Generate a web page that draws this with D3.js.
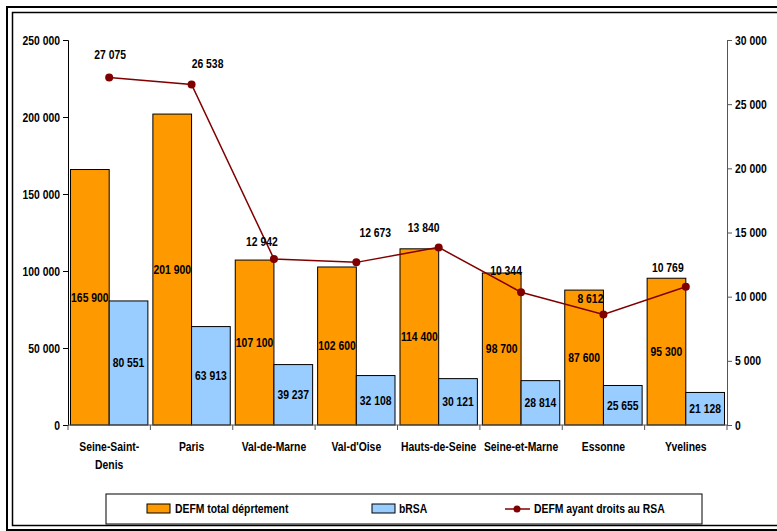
<!DOCTYPE html>
<html><head><meta charset="utf-8">
<script src="https://cdn.jsdelivr.net/npm/d3@7"></script>
<style>
body{margin:0;background:#fff;}
svg text{font-family:"Liberation Sans",Arial,sans-serif;font-weight:bold;font-size:12.5px;fill:#000;}
</style></head>
<body><svg id="c" width="777" height="531"></svg>
<script>
const categories = ["Seine-Saint-Denis","Paris","Val-de-Marne","Val-d'Oise","Hauts-de-Seine","Seine-et-Marne","Essonne","Yvelines"];
const categoryLines = [["Seine-Saint-","Denis"],["Paris"],["Val-de-Marne"],["Val-d'Oise"],["Hauts-de-Seine"],["Seine-et-Marne"],["Essonne"],["Yvelines"]];
const defmTotal = [165900,201900,107100,102600,114400,98700,87600,95300];
const brsa = [80551,63913,39237,32108,30121,28814,25655,21128];
const defmRsa = [27075,26538,12942,12673,13840,10344,8612,10769];
const leftTicks = [0,50000,100000,150000,200000,250000];
const rightTicks = [0,5000,10000,15000,20000,25000,30000];
const seriesNames = ["DEFM total déprtement","bRSA","DEFM ayant droits au RSA"];
// manual label placement offsets (styling, px)
const lineLabelDx = [1,16,-12,19,-15,-15,-13,-18];
const lineLabelDy = [-23,-21,-17,-30,-20,-22,-16,-19];

const fmt = v => d3.format(",")(v).replace(/,/g," ");
const svg = d3.select("#c");

// frame
svg.append("rect").attr("x",7).attr("y",7).attr("width",790).attr("height",523).attr("fill","none").attr("stroke","#000").attr("stroke-width",2);
svg.append("rect").attr("x",12.5).attr("y",12.5).attr("width",780).attr("height",513).attr("fill","none").attr("stroke","#000").attr("stroke-width",1.5);

const L=68, R=727, T=40, B=425;
const x = d3.scaleBand().domain(categories).range([L,R]).paddingInner(0).paddingOuter(0);
const yL = d3.scaleLinear().domain([0,250000]).range([B,T]);
const yR = d3.scaleLinear().domain([0,30000]).range([B,T]);
const pad = 2.5;
const bw = (x.bandwidth()-2*pad)/2;

const g = svg.append("g");
g.selectAll(".o").data(categories).join("rect")
 .attr("x",d=>x(d)+pad).attr("y",(d,i)=>yL(defmTotal[i]))
 .attr("width",bw).attr("height",(d,i)=>B-yL(defmTotal[i]))
 .attr("fill","#FF9900").attr("stroke","#000").attr("stroke-width",1);
g.selectAll(".b").data(categories).join("rect")
 .attr("x",d=>x(d)+pad+bw).attr("y",(d,i)=>yL(brsa[i]))
 .attr("width",bw).attr("height",(d,i)=>B-yL(brsa[i]))
 .attr("fill","#99CCFF").attr("stroke","#000").attr("stroke-width",1);

g.selectAll(".ol").data(categories).join("text")
 .attr("x",d=>x(d)+pad+bw/2).attr("y",(d,i)=>(yL(defmTotal[i])+B)/2)
 .attr("text-anchor","middle").attr("dominant-baseline","central").text((d,i)=>fmt(defmTotal[i]));
g.selectAll(".bl").data(categories).join("text")
 .attr("x",d=>x(d)+pad+bw*1.5).attr("y",(d,i)=>(yL(brsa[i])+B)/2)
 .attr("text-anchor","middle").attr("dominant-baseline","central").text((d,i)=>fmt(brsa[i]));

// axes
const axL = svg.append("g").attr("transform",`translate(${L},0)`)
 .call(d3.axisLeft(yL).tickValues(leftTicks).tickFormat(fmt).tickSize(5).tickPadding(3));
const axR = svg.append("g").attr("transform",`translate(${R},0)`)
 .call(d3.axisRight(yR).tickValues(rightTicks).tickFormat(fmt).tickSize(5).tickPadding(3));
[axL,axR].forEach(a=>{a.select(".domain").attr("stroke","#000");a.selectAll(".tick line").attr("stroke","#000");a.selectAll("text").attr("font-size",null).attr("font-family",null).attr("fill","#000");});
axR.select(".domain").attr("stroke","#555");axR.selectAll(".tick line").attr("stroke","#555");

svg.append("line").attr("x1",L).attr("x2",R).attr("y1",B).attr("y2",B).attr("stroke","#555");
const bounds = categories.map(d=>x(d)).concat([R]);
svg.selectAll(".xt").data(bounds).join("line").attr("x1",d=>d).attr("x2",d=>d).attr("y1",B).attr("y2",B+5).attr("stroke","#555");
const cl = svg.selectAll(".cl").data(categories).join("text")
 .attr("text-anchor","middle").attr("x",d=>x(d)+x.bandwidth()/2).attr("y",451);
cl.each(function(d,i){const t=d3.select(this);categoryLines[i].forEach((s,j)=>t.append("tspan").attr("x",x(d)+x.bandwidth()/2).attr("dy",j?18:0).text(s));});

const cx = d=>x(d)+x.bandwidth()/2;
svg.append("path").datum(categories)
 .attr("d",d3.line().x(d=>cx(d)).y((d,i)=>yR(defmRsa[i])))
 .attr("fill","none").attr("stroke","#800000").attr("stroke-width",1.5);
svg.selectAll(".pt").data(categories).join("circle")
 .attr("cx",cx).attr("cy",(d,i)=>yR(defmRsa[i])).attr("r",4).attr("fill","#800000");
svg.selectAll(".pl").data(categories).join("text")
 .attr("text-anchor","middle").attr("dominant-baseline","central")
 .attr("x",(d,i)=>cx(d)+lineLabelDx[i]).attr("y",(d,i)=>yR(defmRsa[i])+lineLabelDy[i])
 .text((d,i)=>fmt(defmRsa[i]));

// legend
const lg = svg.append("g");
lg.append("rect").attr("x",106).attr("y",494).attr("width",596).attr("height",30).attr("fill","#fff").attr("stroke","#000").attr("stroke-width",1);
lg.append("rect").attr("x",147).attr("y",504).attr("width",23).attr("height",9).attr("fill","#FF9900").attr("stroke","#000");
lg.append("text").attr("x",175).attr("y",509).attr("dominant-baseline","central").text(seriesNames[0]);
lg.append("rect").attr("x",372).attr("y",504).attr("width",23).attr("height",9).attr("fill","#99CCFF").attr("stroke","#000");
lg.append("text").attr("x",399).attr("y",509).attr("dominant-baseline","central").text(seriesNames[1]);
lg.append("line").attr("x1",505).attr("x2",530).attr("y1",509).attr("y2",509).attr("stroke","#800000").attr("stroke-width",1.5);
lg.append("circle").attr("cx",517).attr("cy",509).attr("r",3.5).attr("fill","#800000");
lg.append("text").attr("x",534).attr("y",509).attr("dominant-baseline","central").text(seriesNames[2]);

// condense all text horizontally (Arial Narrow look)
svg.selectAll("text").each(function(){
  const t=d3.select(this);
  const ax=+t.attr("x")||0;
  t.attr("transform",`translate(${ax},0) scale(0.83,1) translate(${-ax},0)`);
});
</script></body></html>
